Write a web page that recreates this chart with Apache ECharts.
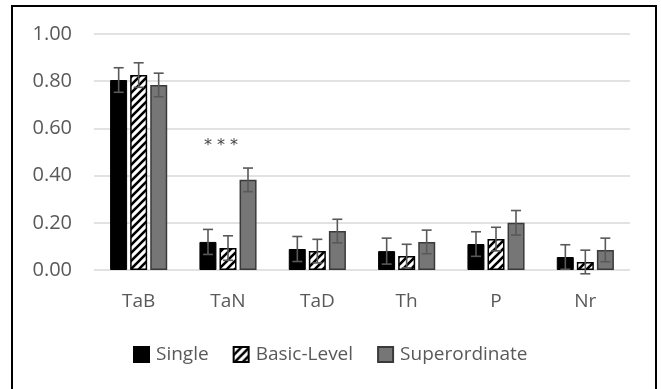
<!DOCTYPE html>
<html><head><meta charset="utf-8">
<script src="https://cdn.jsdelivr.net/npm/echarts@6/dist/echarts.min.js"></script>
<style>html,body{margin:0;padding:0;background:#fff}#c{width:661px;height:389px}</style>
</head><body><div id="c"></div>
<script>
const categories = ['TaB','TaN','TaD','Th','P','Nr'];
const seriesNames = ['Single','Basic-Level','Superordinate'];
const single = [0.805, 0.119, 0.089, 0.080, 0.110, 0.055];
const basic = [0.826, 0.093, 0.080, 0.059, 0.131, 0.034];
const superord = [0.784, 0.382, 0.165, 0.119, 0.200, 0.085];
const singleErr = [0.052, 0.053, 0.053, 0.055, 0.052, 0.052];
const basicErr = [0.052, 0.052, 0.050, 0.050, 0.050, 0.050];
const superErr = [0.050, 0.050, 0.050, 0.050, 0.052, 0.050];
const yTicks = [0, 0.2, 0.4, 0.6, 0.8, 1.0];
const sigLabel = '* * *';
const sigCategory = 'TaN';
const sigValue = 0.525;

function hatch(){
  const c = document.createElement('canvas');
  c.width = 8; c.height = 8;
  const g = c.getContext('2d');
  g.fillStyle = '#fff'; g.fillRect(0,0,8,8);
  g.strokeStyle = '#000'; g.lineWidth = 2.6;
  g.beginPath();
  g.moveTo(-2,10); g.lineTo(10,-2);
  g.moveTo(-6,6); g.lineTo(6,-6);
  g.moveTo(2,14); g.lineTo(14,2);
  g.stroke();
  return c;
}
const hatchImg = hatch();

const chart = echarts.init(document.getElementById('c'), null, {renderer:'canvas'});
const BW = 17, OFF = 20;
const FONT = 'Open Sans';
function errSeries(vals, errs, off){
  return {
    type:'custom', silent:true, z:10,
    data: vals.map((v,i)=>[i, v, errs[i]]),
    renderItem: function(params, api){
      const i = api.value(0), v = api.value(1), e = api.value(2);
      const top = api.coord([i, v+e]);
      const bot = api.coord([i, v-e]);
      const x = top[0] + off;
      const cap = 5;
      const st = {stroke:'#595959', lineWidth:1.6};
      return {type:'group', children:[
        {type:'line', shape:{x1:x,y1:top[1],x2:x,y2:bot[1]}, style:st},
        {type:'line', shape:{x1:x-cap,y1:top[1],x2:x+cap,y2:top[1]}, style:st},
        {type:'line', shape:{x1:x-cap,y1:bot[1],x2:x+cap,y2:bot[1]}, style:st}
      ]};
    }
  };
}
const option = {
  backgroundColor:'#fff',
  animation:false,
  textStyle:{fontFamily:FONT},
  grid:{left:94, right:31, top:34, bottom:119, containLabel:false},
  xAxis:{type:'category', data:categories,
    axisLine:{show:false}, axisTick:{show:false},
    axisLabel:{color:'#595959', fontSize:19, margin:22, fontFamily:FONT}},
  yAxis:{type:'value', min:0, max:1, interval:0.2,
    axisLine:{show:false}, axisTick:{show:false},
    splitLine:{lineStyle:{color:'#d9d9d9', width:1.5}},
    axisLabel:{color:'#595959', fontSize:20, margin:22, fontFamily:FONT,
      formatter:v=>v.toFixed(2)}},
  legend:{top:345, left:133, padding:0, itemWidth:15, itemHeight:15, itemGap:24, icon:'rect',
    textStyle:{color:'#595959', fontSize:19, fontFamily:FONT, padding:[0,0,0,2]},
    data:seriesNames},
  series:[
    {name:'Single', type:'bar', data:single, barWidth:BW, barGap:'18%',
      itemStyle:{color:'#000', borderColor:'#000', borderWidth:1}},
    {name:'Basic-Level', type:'bar', data:basic, barWidth:BW,
      itemStyle:{color:{image:hatchImg, repeat:'repeat'}, borderColor:'#000', borderWidth:1.5}},
    {name:'Superordinate', type:'bar', data:superord, barWidth:BW,
      itemStyle:{color:'#767676', borderColor:'#3a3a3a', borderWidth:1.5}},
    errSeries(single, singleErr, -OFF),
    errSeries(basic, basicErr, 0),
    errSeries(superord, superErr, OFF)
  ]
};
chart.setOption(option);
const p = chart.convertToPixel({gridIndex:0}, [sigCategory, sigValue]);
chart.setOption({graphic:[
  {type:'rect', shape:{x:12, y:6, width:644, height:400},
    style:{fill:'none', stroke:'#000', lineWidth:2}, silent:true, z:100},
  {type:'text', x:p[0]-7, y:p[1], silent:true, z:100,
    style:{text:sigLabel, fill:'#444', font:'16px "DejaVu Sans"', align:'center', verticalAlign:'middle'}}
]});
</script></body></html>
